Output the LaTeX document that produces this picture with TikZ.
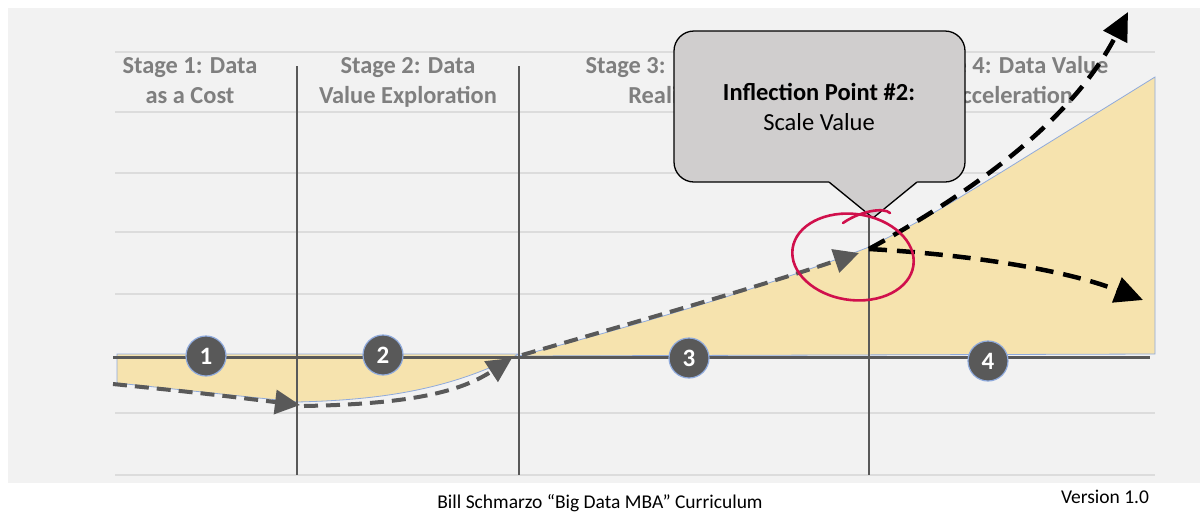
\documentclass[tikz,border=0pt]{standalone}
\usepackage{fontspec}
\setmainfont{Carlito}
\usetikzlibrary{arrows.meta}
\definecolor{bgc}{HTML}{F2F2F2}
\definecolor{gridc}{HTML}{DCDCDC}
\definecolor{dk}{HTML}{595959}
\definecolor{labc}{HTML}{7F7F7F}
\definecolor{fillY}{HTML}{F6E3AE}
\definecolor{edgeB}{HTML}{8FAADC}
\definecolor{redc}{HTML}{D0104C}
\definecolor{callg}{HTML}{D0CECE}
\begin{document}
\begin{tikzpicture}[x=1pt,y=-1pt,
  gridline/.style={gridc, line width=1.2pt},
  divider/.style={dk, line width=2.6pt},
  stagelab/.style={text=labc, font=\fontsize{24.4}{29}\selectfont\bfseries, inner sep=0pt, anchor=base},
  calltxt/.style={text=black, font=\fontsize{24.5}{29}\selectfont, inner sep=0pt, anchor=base},
  foottxt/.style={text=black, font=\fontsize{19.5}{23}\selectfont, inner sep=0pt, anchor=base},
  numcirc/.style={circle, fill=dk, draw=edgeB, line width=1.2pt, minimum size=40pt, inner sep=0pt, text=white, font=\fontsize{25}{28}\selectfont\bfseries},
  grayarrow/.style={dk, line width=4pt, dash pattern=on 14pt off 8pt, -{Triangle[length=25pt,width=24pt]}},
  blackarrow/.style={black, line width=4.5pt, dash pattern=on 18pt off 10pt, -{Triangle[length=28pt,width=26pt]}},
  redmark/.style={redc, line width=2.6pt, line cap=round},
]
\useasboundingbox (0,0) rectangle (1200,512);
\fill[white] (0,0) rectangle (1200,512);
\fill[bgc] (8,8) rectangle (1200,483);
% grid lines
\foreach \yy in {52,112,173,232,294,413,475}
  \draw[gridline] (115,\yy) -- (1155,\yy);
% area
\filldraw[fill=fillY, draw=edgeB, line width=0.8pt]
  (117,354) -- (519,354) .. controls (450,390) and (380,400) .. (297,402) -- (117,383) -- cycle;
\filldraw[fill=fillY, draw=edgeB, line width=0.8pt]
  (519,356) .. controls (650,322) and (780,282) .. (869,247)
  .. controls (930,217) and (960,197) .. (1000,173) -- (1155,77) -- (1155,354) -- cycle;
% axis and dividers
\draw[dk, line width=3pt] (113,357) -- (1150,357);
\draw[divider] (297,66) -- (297,475);
\draw[divider] (519,66) -- (519,475);
\draw[divider] (869,66) -- (869,475);
% gray dashed arrows
\coordinate (g0) at (113,384);
\coordinate (g1) at (300,405);
\coordinate (g2) at (304,406);
\coordinate (g3) at (512,358);
\coordinate (g4) at (522,355);
\coordinate (g5) at (859,253);
\draw[grayarrow] (g0) .. controls (200,393) .. (g1);
\draw[grayarrow] (g2) .. controls (410,404) and (460,392) .. (g3);
\draw[grayarrow] (g4) .. controls (650,318) and (770,283) .. (g5);
% number circles
\node[numcirc] (c1) at (206,356) {1};
\node[numcirc] (c2) at (383,355) {2};
\node[numcirc] (c3) at (689,358) {3};
\node[numcirc] (c4) at (988,361) {4};
% stage labels
\node[stagelab] (s1a) at (190,73) {Stage 1: Data};
\node[stagelab] (s1b) at (190,103) {as a Cost};
\node[stagelab] (s2a) at (408,73) {Stage 2: Data};
\node[stagelab] (s2b) at (408,103) {Value Exploration};
\node[stagelab] (s3a) at (684,73) {Stage 3: Data Value};
\node[stagelab] (s3b) at (684,103) {Realization};
\node[stagelab] (s4a) at (1010,73) {Stage 4: Data Value};
\node[stagelab] (s4b) at (1010,103) {Acceleration};
% black dashed arrows
\coordinate (ip) at (869,249);
\coordinate (up) at (1128,12);
\coordinate (dn) at (1143,300);
\draw[blackarrow] (ip) .. controls (985,185) and (1075,115) .. (up);
\draw[blackarrow] (ip) .. controls (960,254) and (1060,268) .. (dn);
% callout
\node[draw=black, fill=callg, line width=1.3pt, rounded corners=20pt,
      minimum width=291pt, minimum height=151pt, inner sep=0pt] (callout) at (819.5,106.5) {};
\coordinate (tip) at (873,218);
\fill[callg] (829,179) -- (829,183.5) -- (tip) -- (917,183.5) -- (917,179) -- cycle;
\draw[black, line width=1.3pt, line join=miter] (829,182) -- (tip) -- (917,182);
\node[calltxt, font=\fontsize{24.5}{29}\selectfont\bfseries] (ipt) at (819,100) {Inflection Point \#2:};
\node[calltxt] (sv) at (819,130) {Scale Value};
% red hand-drawn circle
\draw[redmark, rotate around={-8:(853,257)}] (853,257) ellipse [x radius=61, y radius=43];
\draw[redmark] (843,223) .. controls (860,211) and (884,207) .. (890,213);
% footer
\node[foottxt] (credit) at (600,508) {Bill Schmarzo “Big Data MBA” Curriculum};
\node[foottxt] (ver) at (1105,503) {Version 1.0};
\end{tikzpicture}
\end{document}
